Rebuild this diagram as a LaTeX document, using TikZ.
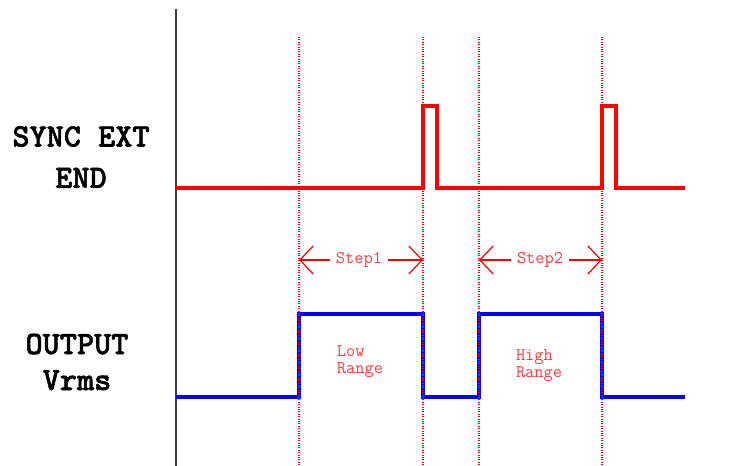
\documentclass[tikz,border=0pt]{standalone}
\usepackage{fontspec}
\newfontfamily\sigfont[FakeBold=1.6]{lmmonolt10-bold.otf}
\usetikzlibrary{arrows.meta,positioning}
\definecolor{sigred}{RGB}{255,0,0}
\definecolor{txtred}{RGB}{255,60,60}
\definecolor{sigblue}{RGB}{0,0,255}
\definecolor{axisgray}{RGB}{60,60,60}

\begin{document}
\begin{tikzpicture}[x=0.75pt, y=-0.75pt,
    siglabel/.style={font=\sigfont\fontsize{24.5}{28}\selectfont, align=center},
    small/.style={font=\ttfamily\fontsize{13.4}{12.75}\selectfont, text=txtred, align=left, inner sep=4pt},
    marker/.style={sigred, densely dotted, line width=0.8pt},
    wave/.style={line width=3.2pt, line join=miter},
    span/.style={-{Straight Barb[length=10pt,width=21pt]}, sigred, line width=0.9pt}]
  \useasboundingbox (0,0) rectangle (747,466);
  % time axis
  \draw[axisgray, line width=1.5pt] (176,9) -- (176,466);
  % SYNC EXT END: two short pulses
  \draw[wave, sigred] (176,188) -- (423,188) -- (423,106) -- (437,106) -- (437,188)
    -- (602,188) -- (602,106) -- (616,106) -- (616,188) -- (685,188);
  % OUTPUT Vrms
  \draw[wave, sigblue, line width=3.6pt] (176,397) -- (299,397) -- (299,314) -- (423,314) -- (423,397)
    -- (479,397) -- (479,314) -- (602,314) -- (602,397) -- (685,397);
  % step boundaries
  \foreach \n/\x in {1/299, 2/423, 3/479, 4/602} {
    \coordinate (t\n) at (\x,260);
    \draw[marker] (\x,37) -- (\x,466);
  }
  % signal names
  \node[siglabel] (sync) at (81,157) {SYNC EXT\\[3pt]END};
  \node[siglabel] (output) at (77,362) {OUTPUT\\[-1pt]Vrms};
  % step widths
  \node[small] (step1) at (359,260) {Step1};
  \draw[span] (step1) -- (t1);
  \draw[span] (step1) -- (t2);
  \node[small] (step2) at (540,260) {Step2};
  \draw[span] (step2) -- (t3);
  \draw[span] (step2) -- (t4);
  % range notes
  \node[small] (low) at (360,362) {Low\\Range};
  \node[small] (high) at (539,366) {High\\Range};
\end{tikzpicture}
\end{document}
